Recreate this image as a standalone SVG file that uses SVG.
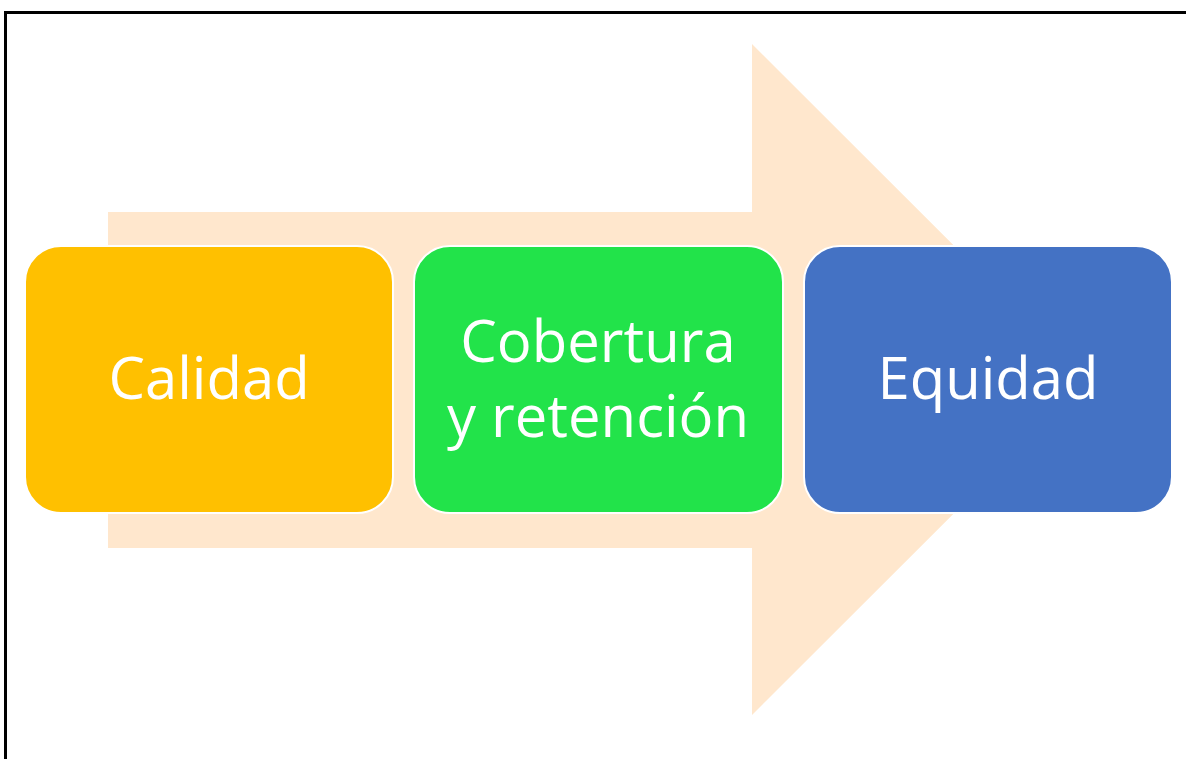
<svg xmlns="http://www.w3.org/2000/svg" width="1186" height="759" viewBox="0 0 1186 759">
<style>
.box{stroke:#fff;stroke-width:2}
.lbl{fill:#fff;font-family:"Open Sans","Noto Sans",sans-serif;font-size:58px;text-anchor:middle}
</style>
<rect x="0" y="0" width="1186" height="759" fill="#fff"/>
<path d="M5.5 759 V12.5 H1186" fill="none" stroke="#000" stroke-width="3"/>
<g id="connectors">
<polygon points="108,212 752,212 752,44 1088,379.5 752,715 752,548 108,548" fill="#FFE7CD"/>
</g>
<g id="calidad">
<rect class="box" x="25" y="246" width="368" height="267" rx="36" fill="#FFC000"/>
<text class="lbl" x="209" y="399">Calidad</text>
</g>
<g id="cobertura">
<rect class="box" x="414" y="246" width="369" height="267" rx="36" fill="#22E34A"/>
<text class="lbl" x="598" y="362">Cobertura</text>
<text class="lbl" x="598" y="437">y retención</text>
</g>
<g id="equidad">
<rect class="box" x="804" y="246" width="368" height="267" rx="36" fill="#4472C4"/>
<text class="lbl" x="988" y="399">Equidad</text>
</g>
</svg>
